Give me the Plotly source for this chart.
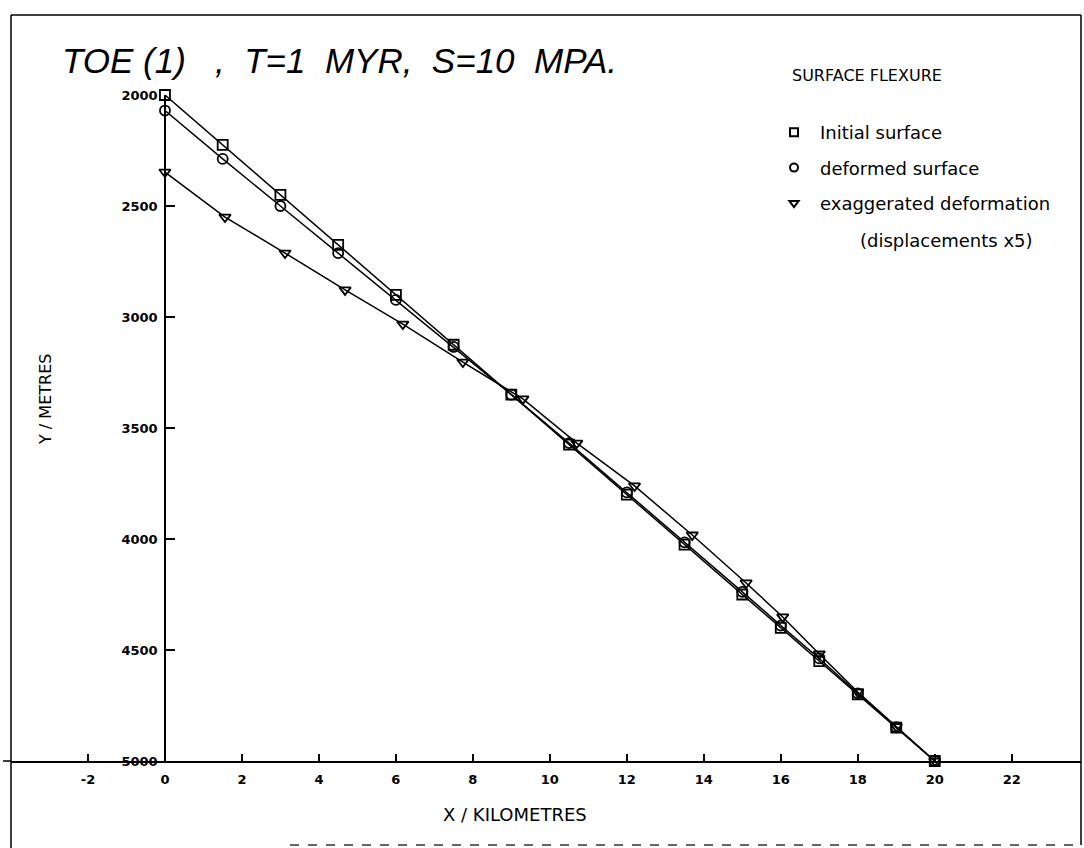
import plotly.graph_objects as go

# values (x in km, y depth in m)
x_initial = [0, 1.5, 3, 4.5, 6, 7.5, 9, 10.5, 12, 13.5, 15, 16, 17, 18, 19, 20]
y_initial = [2000, 2225, 2450, 2675, 2900, 3125, 3350, 3575, 3800, 4025, 4250, 4400, 4550, 4700, 4850, 5000]

x_deformed = [0, 1.5, 3, 4.5, 6, 7.5, 9, 10.5, 12, 13.5, 15, 16, 17, 18, 19, 20]
y_deformed = [2070, 2288, 2500, 2712, 2923, 3135, 3350, 3568, 3790, 4015, 4238, 4390, 4538, 4695, 4848, 5000]

x_exagg = [0, 1.56, 3.12, 4.68, 6.18, 7.74, 9.3, 10.7, 12.2, 13.7, 15.1, 16.05, 17.0, 18.0, 19.0, 20.0]
y_exagg = [2347, 2550, 2712, 2878, 3032, 3203, 3369, 3568, 3761, 3982, 4198, 4351, 4518, 4689, 4845, 5000]

x_ticks = [-4, -2, 0, 2, 4, 6, 8, 10, 12, 14, 16, 18, 20, 22]
x_ticktext = ["", "-2", "0", "2", "4", "6", "8", "10", "12", "14", "16", "18", "20", "22"]
y_ticks = [2000, 2500, 3000, 3500, 4000, 4500, 5000]

title_text = "TOE\u00a0(1)\u00a0\u00a0\u00a0,\u00a0\u00a0T=1\u00a0\u00a0MYR,\u00a0\u00a0S=10\u00a0\u00a0MPA."
legend_names = ["Initial surface", "deformed surface", "exaggerated deformation"]

W, H = 1084, 848
L, R, T, B = 11, 3, 95, 87
PW, PH = W - L - R, H - T - B


def px(xp):
    return (xp - L) / PW


def py(yp):
    return (H - B - yp) / PH


line = dict(color="black", width=1.5)
fig = go.Figure()

series = [
    (x_initial, y_initial, "square-open", legend_names[0]),
    (x_deformed, y_deformed, "circle-open", legend_names[1]),
    (x_exagg, y_exagg, "triangle-down-open", legend_names[2]),
]
for xs, ys, sym, name in series:
    fig.add_trace(go.Scatter(
        x=xs, y=ys, mode="lines+markers", line=line,
        marker=dict(symbol=sym, size=10, color="black", line=dict(width=1.8, color="black")),
        showlegend=False, cliponaxis=False,
    ))
    # marker-only entry for the legend
    fig.add_trace(go.Scatter(
        x=[None], y=[None], mode="markers", name=name, legendgroup=name,
        marker=dict(symbol=sym, size=8, color="black", line=dict(width=2, color="black")),
    ))

tickfont = dict(family="DejaVu Sans", size=13, color="black", weight="bold")
textfont = dict(family="DejaVu Sans", size=18, color="black")

fig.update_layout(
    width=W, height=H,
    margin=dict(l=L, r=R, t=T, b=B),
    paper_bgcolor="white", plot_bgcolor="white",
    font=dict(family="DejaVu Sans", color="black"),
    xaxis=dict(
        range=[-4, 23.8], tickvals=x_ticks, ticktext=x_ticktext,
        ticks="inside", ticklen=7, tickwidth=1.5, tickcolor="black",
        showline=True, linecolor="black", linewidth=1.5,
        showgrid=False, zeroline=False, tickfont=tickfont, ticklabelstandoff=6,
    ),
    yaxis=dict(
        range=[5000, 2000], tickvals=y_ticks,
        anchor="free", position=px(165),
        ticks="inside", ticklen=9, tickwidth=1.5, tickcolor="black",
        showline=True, linecolor="black", linewidth=1.5,
        showgrid=False, zeroline=False, tickfont=tickfont, ticklabelstandoff=4,
    ),
    showlegend=True,
    legend=dict(
        x=px(768), y=py(114), xanchor="left", yanchor="top",
        font=textfont, tracegroupgap=9, itemwidth=42, bgcolor="rgba(0,0,0,0)",
    ),
)

# frame of the original sheet
frame = dict(type="line", xref="paper", yref="paper", line=dict(color="black", width=1.5))
fig.add_shape(x0=px(11), x1=px(11), y0=py(15), y1=py(848), **frame)
fig.add_shape(x0=px(11), x1=px(1081), y0=py(15), y1=py(15), **frame)
fig.add_shape(x0=px(1081), x1=px(1081), y0=py(15), y1=py(845), **frame)
fig.add_shape(x0=px(3), x1=px(11), y0=py(761), y1=py(761), **frame)
fig.add_shape(type="line", xref="paper", yref="paper", x0=px(290), x1=px(1081), y0=py(845), y1=py(845),
              line=dict(color="#333333", width=1.5, dash="dash"))

fig.add_annotation(
    x=px(60), y=py(60), xref="paper", yref="paper", xanchor="left", yanchor="middle",
    text=title_text, showarrow=False,
    font=dict(family="Liberation Sans", size=35, style="italic", color="black"),
)
fig.add_annotation(
    x=px(790), y=py(75), xref="paper", yref="paper", xanchor="left", yanchor="middle",
    text="SURFACE FLEXURE", showarrow=False,
    font=dict(family="DejaVu Sans", size=16, color="black"),
)
fig.add_annotation(
    x=px(858), y=py(240), xref="paper", yref="paper", xanchor="left", yanchor="middle",
    text="(displacements x5)", showarrow=False, font=textfont,
)
fig.add_annotation(
    x=px(46), y=py(400), xref="paper", yref="paper", xanchor="center", yanchor="middle",
    text="Y / METRES", textangle=-90, showarrow=False,
    font=dict(family="DejaVu Sans", size=16, color="black"),
)
fig.add_annotation(
    x=px(515), y=py(814), xref="paper", yref="paper", xanchor="center", yanchor="middle",
    text="X / KILOMETRES", showarrow=False, font=textfont,
)

fig.write_html("out.html", config={"displayModeBar": False},
               post_script="document.body.style.margin='0';")
